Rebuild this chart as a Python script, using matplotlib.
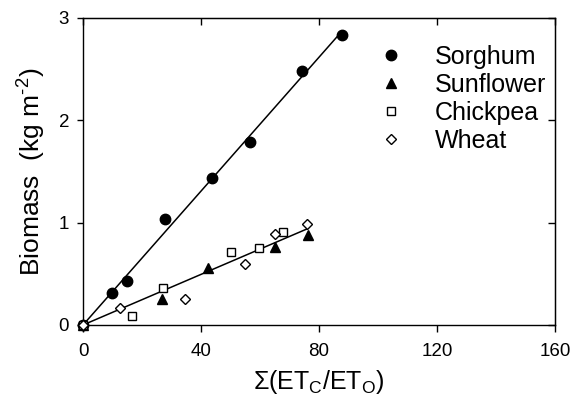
import numpy as np
import matplotlib
matplotlib.use('Agg')
import matplotlib.pyplot as plt

plt.rcParams['font.family'] = ['Liberation Sans', 'DejaVu Sans']
plt.rcParams['mathtext.fontset'] = 'custom'
plt.rcParams['mathtext.rm'] = 'Liberation Sans'
plt.rcParams['mathtext.it'] = 'Liberation Sans:italic'
plt.rcParams['mathtext.default'] = 'regular'

# data
sorghum_x = [0, 9.8, 14.9, 27.8, 43.7, 56.7, 74.1, 87.8]
sorghum_y = [0, 0.31, 0.43, 1.04, 1.44, 1.79, 2.48, 2.83]

sunflower_x = [0, 26.9, 42.5, 65.0, 76.2]
sunflower_y = [0, 0.25, 0.56, 0.76, 0.88]

chickpea_x = [0, 16.6, 27.2, 50.0, 59.6, 67.7]
chickpea_y = [0, 0.09, 0.36, 0.71, 0.75, 0.91]

wheat_x = [0, 12.6, 34.5, 54.9, 65.1, 75.9]
wheat_y = [0, 0.17, 0.25, 0.60, 0.89, 0.99]

x_ticks = [0, 40, 80, 120, 160]
y_ticks = [0, 1, 2, 3]


def fit_origin(xs, ys):
    # least squares line through the origin
    xs = np.asarray(xs, float)
    ys = np.asarray(ys, float)
    return (xs * ys).sum() / (xs * xs).sum()


fig = plt.figure(figsize=(5.85, 4.09), dpi=100)
ax = fig.add_axes([0.1419, 0.2054, 0.8068, 0.7506])

# regression lines
k1 = fit_origin(sorghum_x, sorghum_y)
lx1 = np.array([0, max(sorghum_x)])
ax.plot(lx1, k1 * lx1, color='black', lw=1.1, zorder=2)

others_x = sunflower_x + chickpea_x + wheat_x
others_y = sunflower_y + chickpea_y + wheat_y
k2 = fit_origin(others_x, others_y)
lx2 = np.array([0, max(others_x)])
ax.plot(lx2, k2 * lx2, color='black', lw=1.1, zorder=2)

ax.plot(sorghum_x, sorghum_y, 'o', color='black', ms=7.5, ls='none',
        label='Sorghum', clip_on=False, zorder=3)
ax.plot(sunflower_x, sunflower_y, '^', color='black', ms=7, ls='none',
        label='Sunflower', clip_on=False, zorder=3)
ax.plot(chickpea_x, chickpea_y, 's', mfc='white', mec='black', mew=1,
        ms=5.5, ls='none', label='Chickpea', clip_on=False, zorder=3)
ax.plot(wheat_x, wheat_y, 'D', mfc='white', mec='black', mew=1,
        ms=5.5, ls='none', label='Wheat', clip_on=False, zorder=3)

ax.set_xlim(0, 160)
ax.set_ylim(0, 3)
ax.set_xticks(x_ticks)
ax.set_yticks(y_ticks)
ax.tick_params(axis='x', direction='out', length=5, width=1, labelsize=13.5, pad=8)
ax.tick_params(axis='y', direction='out', length=4, width=1, labelsize=13.5, pad=6)
for s in ax.spines.values():
    s.set_linewidth(1)

# inward ticks on top and right
top = ax.secondary_xaxis('top')
top.set_xticks(x_ticks)
top.tick_params(direction='in', length=5, width=1, labeltop=False)
right = ax.secondary_yaxis('right')
right.set_yticks(y_ticks)
right.tick_params(direction='in', length=5, width=1, labelright=False)

ax.set_xlabel(r'$\Sigma(ET_C/ET_O)$', fontsize=18, labelpad=6)
ax.set_ylabel('Biomass  (kg m$^{\u20102}$)', fontsize=19, labelpad=8)

ax.legend(loc='upper left', bbox_to_anchor=(0.59, 0.97), frameon=False,
          fontsize=18, handlelength=1.0, handletextpad=1.25,
          labelspacing=0.16, borderaxespad=0.3)

fig.savefig('out.png', dpi=100)
